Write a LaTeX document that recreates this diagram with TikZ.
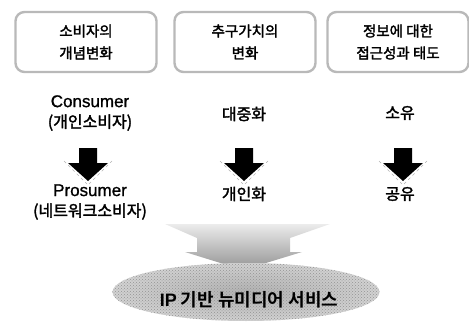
\documentclass[tikz,border=0pt]{standalone}
\usepackage{fontspec}
\setmainfont{Noto Sans CJK KR}[FakeBold=2]
\newfontfamily\lat{Liberation Sans}[FakeBold=1]
\newfontfamily\kbold{Noto Sans CJK KR Bold}
\newfontfamily\latbold{Liberation Sans Bold}
\usetikzlibrary{shapes.geometric,patterns}
\newcommand\blkarrow[1]{%
  \fill[black] (#1) ++(-9,0) -- ++(18,0) -- ++(0,15) -- ++(11,0) -- ++(-20,18) -- ++(-20,-18) -- ++(11,0) -- cycle;
  \draw[gray!60,dashed,line width=0.5pt] (#1) ++(-24,13) -- ++(23,23) ++(2,0) -- ++(23,-23);
}
\begin{document}
\begin{tikzpicture}[x=1pt,y=-1pt,
  box/.style={draw=gray!55,line width=2.4pt,rounded corners=9pt,minimum width=141pt,minimum height=60pt,align=center,font=\fontsize{14.5}{22}\selectfont},
  lbl/.style={align=center,font=\fontsize{16}{20.5}\selectfont,inner sep=0pt}]
\useasboundingbox (0,0) rectangle (469,329);
\node[box] (b1) at (86,42) {소비자의\\개념변화};
\node[box] (b2) at (245,42) {추구가치의\\변화};
\node[box] (b3) at (398,42) {정보에 대한\\접근성과 태도};
\node[lbl] (c1) at (90,113) {{\lat\fontsize{17}{20.5}\selectfont Consumer}\\(개인소비자)};
\node[lbl] (p1) at (90,202) {{\lat\fontsize{17}{20.5}\selectfont Prosumer}\\(네트워크소비자)};
\node[lbl] (c2) at (244,114) {대중화};
\node[lbl] (p2) at (244,194) {개인화};
\node[lbl] (c3) at (400,113) {소유};
\node[lbl] (p3) at (400,194) {공유};
\coordinate (a1) at (88,148);
\coordinate (a2) at (244,148);
\coordinate (a3) at (403,148);
\blkarrow{a1}
\blkarrow{a2}
\blkarrow{a3}
\shade[top color=gray!15,bottom color=gray!85]
  (165,224) -- (330,224) -- (290,238) -- (290,252) -- (302,252) -- (243,270)
  -- (185,252) -- (197,252) -- (197,238) -- cycle;
\node[ellipse,minimum width=267pt,minimum height=58pt,inner color=gray!60,outer color=gray!35,
  postaction={pattern=crosshatch dots,pattern color=gray!85}] (ip) at (246,292) {};
\node[font=\fontsize{18}{20}\selectfont,inner sep=0pt] (iptext) at (249,300) {{\latbold IP} {\kbold 기반 뉴미디어 서비스}};
\end{tikzpicture}
\end{document}
